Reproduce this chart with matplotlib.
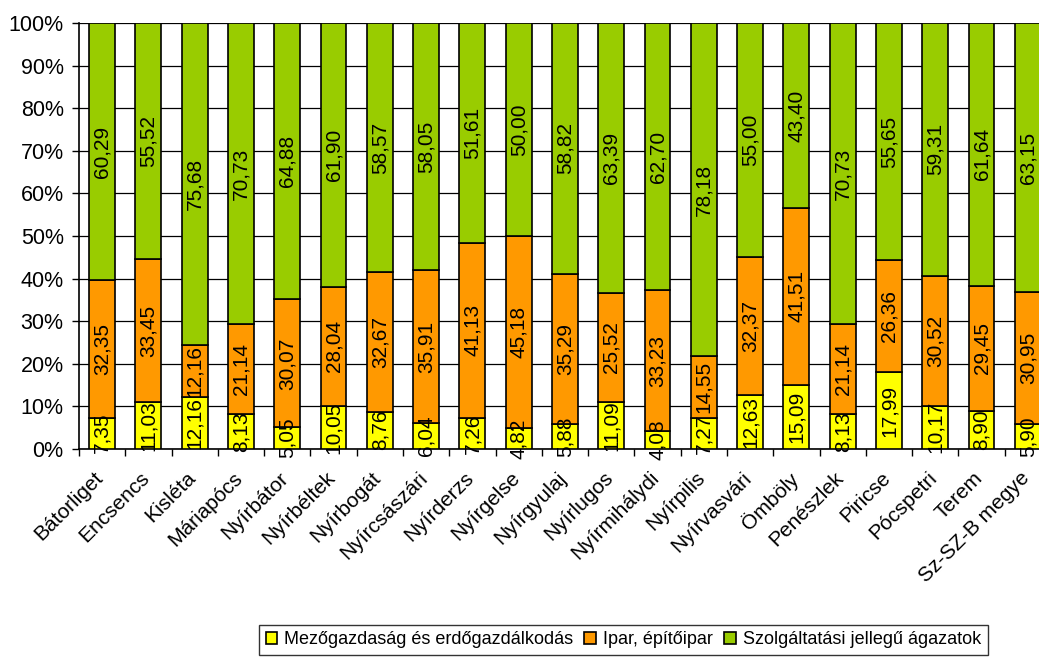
import matplotlib.pyplot as plt
from matplotlib.ticker import FixedLocator, PercentFormatter
from matplotlib.transforms import ScaledTranslation
import numpy as np

plt.rcParams["font.family"] = ["Liberation Sans", "DejaVu Sans"]

# ── Data ────────────────────────────────────────────────────────────────
settlements = [
    "Bátorliget", "Encsencs", "Kisléta", "Máriapócs", "Nyírbátor",
    "Nyírbéltek", "Nyírbogát", "Nyírcsászári", "Nyírderzs", "Nyírgelse",
    "Nyírgyulaj", "Nyírlugos", "Nyírmihálydi", "Nyírpilis", "Nyírvasvári",
    "Ömböly", "Penészlek", "Piricse", "Pócspetri", "Terem", "Sz-SZ-B megye",
]
agriculture = [7.35, 11.03, 12.16, 8.13, 5.05, 10.05, 8.76, 6.04, 7.26, 4.82,
               5.88, 11.09, 4.08, 7.27, 12.63, 15.09, 8.13, 17.99, 10.17, 8.90, 5.90]
industry = [32.35, 33.45, 12.16, 21.14, 30.07, 28.04, 32.67, 35.91, 41.13, 45.18,
            35.29, 25.52, 33.23, 14.55, 32.37, 41.51, 21.14, 26.36, 30.52, 29.45, 30.95]
services = [60.29, 55.52, 75.68, 70.73, 64.88, 61.90, 58.57, 58.05, 51.61, 50.00,
            58.82, 63.39, 62.70, 78.18, 55.00, 43.40, 70.73, 55.65, 59.31, 61.64, 63.15]

series_names = [
    "Mezőgazdaság és erdőgazdálkodás",
    "Ipar, építőipar",
    "Szolgáltatási jellegű ágazatok",
]
colors = ["#FFFF00", "#FF9900", "#99CC00"]


def main():
    data = np.array([agriculture, industry, services])
    shares = data / data.sum(axis=0) * 100
    x = np.arange(len(settlements))

    fig = plt.figure(figsize=(10.39, 6.61), dpi=100)
    # plot area runs past the right edge, as in the original export
    ax = fig.add_axes([0.076, 0.321, 0.9355, 0.644])

    bottom = np.zeros(len(settlements))
    for k in range(3):
        ax.bar(x, shares[k], bottom=bottom, width=0.56, color=colors[k],
               edgecolor="black", linewidth=1.2, label=series_names[k], zorder=3)
        for i in range(len(settlements)):
            ax.text(x[i], bottom[i] + shares[k][i] / 2,
                    f"{data[k][i]:.2f}".replace(".", ","),
                    rotation=90, ha="center", va="center", fontsize=15,
                    zorder=4, clip_on=False)
        bottom += shares[k]

    # ── Axes ────────────────────────────────────────────────────────────
    ax.set_xlim(-0.5, len(settlements) - 0.5)
    ax.set_ylim(0, 100)
    ax.yaxis.set_major_locator(FixedLocator(np.arange(0, 101, 10)))
    ax.yaxis.set_major_formatter(PercentFormatter(decimals=0))
    ax.grid(axis="y", color="black", linewidth=0.9, zorder=0)
    ax.tick_params(axis="y", labelsize=15.5, length=5, width=1, pad=6)

    ax.set_xticks(x)
    ax.set_xticklabels(settlements, rotation=45, ha="right",
                       rotation_mode="anchor", fontsize=15)
    ax.tick_params(axis="x", which="major", length=0, pad=14)
    shift = ScaledTranslation(-6 / 72, 0, fig.dpi_scale_trans)
    for lbl in ax.get_xticklabels():
        lbl.set_transform(lbl.get_transform() + shift)
    ax.xaxis.set_minor_locator(FixedLocator(np.arange(-0.5, len(settlements), 1)))
    ax.tick_params(axis="x", which="minor", length=5, width=1)

    for side in ("top", "right"):
        ax.spines[side].set_visible(False)
    ax.spines["left"].set_linewidth(1.2)
    ax.spines["bottom"].set_linewidth(1.2)

    # ── Legend ──────────────────────────────────────────────────────────
    leg = fig.legend(loc="center", bbox_to_anchor=(0.6, 0.032), ncol=3,
                     fontsize=13, frameon=True, fancybox=False,
                     handlelength=0.65, handleheight=0.65, handletextpad=0.4,
                     columnspacing=0.6, borderpad=0.35)
    leg.get_frame().set_edgecolor("black")
    leg.get_frame().set_linewidth(1.0)

    fig.savefig("out.png", dpi=100, facecolor="white")
    plt.close(fig)


if __name__ == "__main__":
    main()
